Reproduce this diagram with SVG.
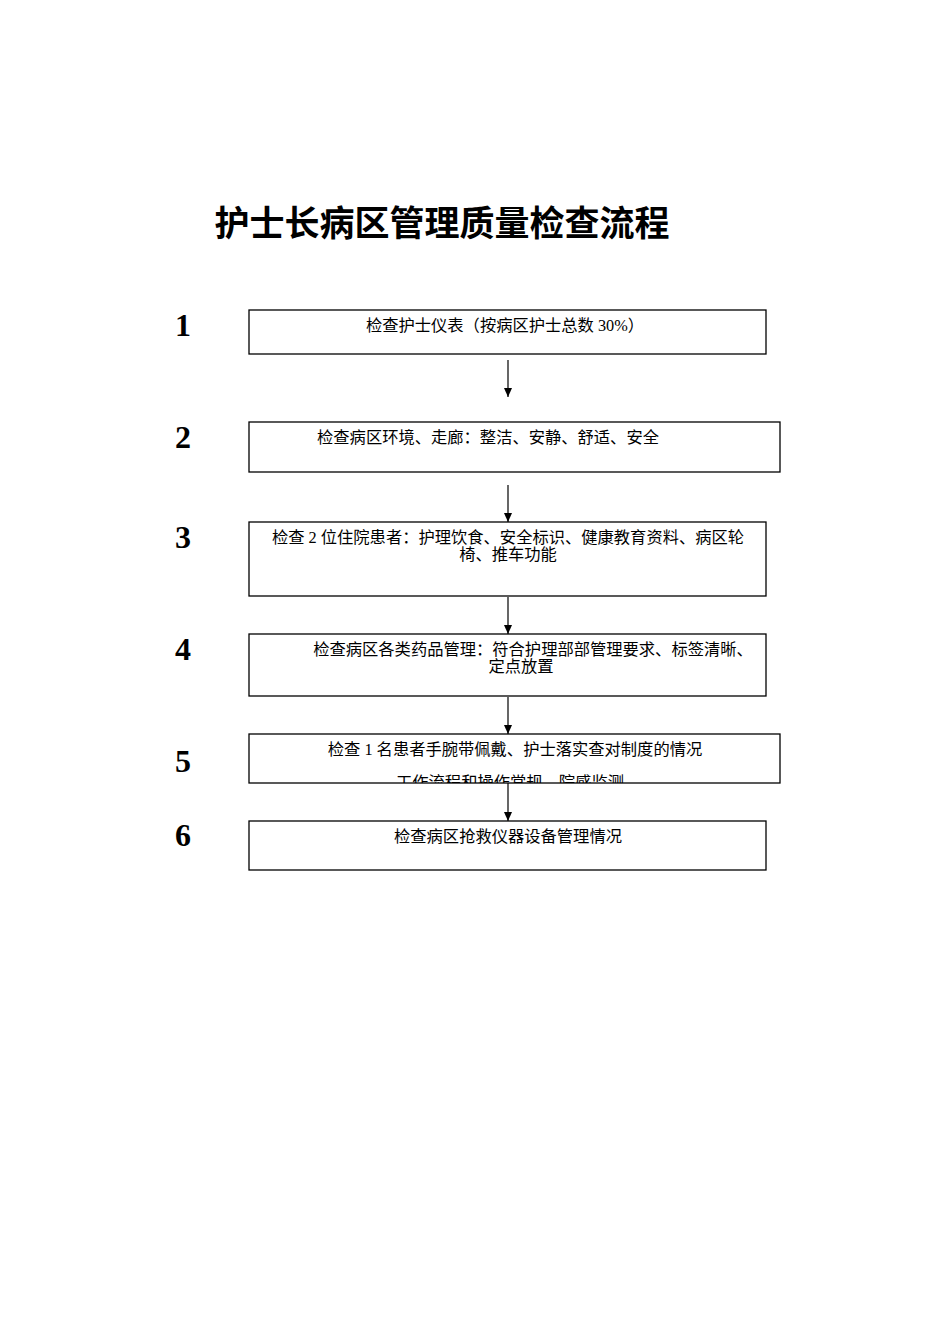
<svg xmlns="http://www.w3.org/2000/svg" width="950" height="1344" viewBox="0 0 950 1344">
<style>
.b{fill:#fff;stroke:#000;stroke-width:1.3}
.t{font-family:"Liberation Serif","Noto Sans CJK SC",serif;font-size:16.3px;fill:#000}
.n{font-family:"Liberation Serif",serif;font-size:32px;font-weight:bold;fill:#000}
.c{stroke:#000;stroke-width:1.2;fill:none;marker-end:url(#a)}
</style>
<defs>
<marker id="a" markerWidth="10" markerHeight="10" refX="9" refY="5" orient="auto" markerUnits="userSpaceOnUse"><path d="M0,1 L9,5 L0,9 Z" fill="#000"/></marker>
<clipPath id="cp5"><rect x="249" y="734" width="531" height="49"/></clipPath>
</defs>
<rect width="950" height="1344" fill="#fff"/>
<text x="442" y="236" text-anchor="middle" style="font-family:'Noto Sans CJK SC',sans-serif;font-size:35px;font-weight:bold">护士长病区管理质量检查流程</text>
<g id="connectors">
<line class="c" x1="508" y1="360" x2="508" y2="397"/>
<line class="c" x1="508" y1="485" x2="508" y2="522"/>
<line class="c" x1="508" y1="597" x2="508" y2="634"/>
<line class="c" x1="508" y1="697" x2="508" y2="734"/>
<line class="c" x1="508" y1="783" x2="508" y2="821"/>
</g>
<g id="n1"><text class="n" x="183" y="336" text-anchor="middle">1</text><rect class="b" x="249" y="310" width="517" height="44"/><text class="t" x="505" y="331" text-anchor="middle">检查护士仪表（按病区护士总数 30%）</text></g>
<g id="n2"><text class="n" x="183" y="448" text-anchor="middle">2</text><rect class="b" x="249" y="422" width="531" height="50"/><text class="t" x="488" y="443" text-anchor="middle">检查病区环境、走廊：整洁、安静、舒适、安全</text></g>
<g id="n3"><text class="n" x="183" y="548" text-anchor="middle">3</text><rect class="b" x="249" y="522" width="517" height="74"/><text class="t" x="508" y="543" text-anchor="middle">检查 2 位住院患者：护理饮食、安全标识、健康教育资料、病区轮</text><text class="t" x="508" y="560" text-anchor="middle">椅、推车功能</text></g>
<g id="n4"><text class="n" x="183" y="660" text-anchor="middle">4</text><rect class="b" x="249" y="634" width="517" height="62"/><text class="t" x="533" y="655" text-anchor="middle">检查病区各类药品管理：符合护理部部管理要求、标签清晰、</text><text class="t" x="521" y="672" text-anchor="middle">定点放置</text></g>
<g id="n5"><text class="n" x="183" y="772" text-anchor="middle">5</text><rect class="b" x="249" y="734" width="531" height="49"/><text class="t" x="515" y="755" text-anchor="middle">检查 1 名患者手腕带佩戴、护士落实查对制度的情况</text><text class="t" x="510" y="788" text-anchor="middle" clip-path="url(#cp5)">工作流程和操作常规、院感监测</text></g>
<g id="n6"><text class="n" x="183" y="846" text-anchor="middle">6</text><rect class="b" x="249" y="821" width="517" height="49"/><text class="t" x="508" y="842" text-anchor="middle">检查病区抢救仪器设备管理情况</text></g>
</svg>
